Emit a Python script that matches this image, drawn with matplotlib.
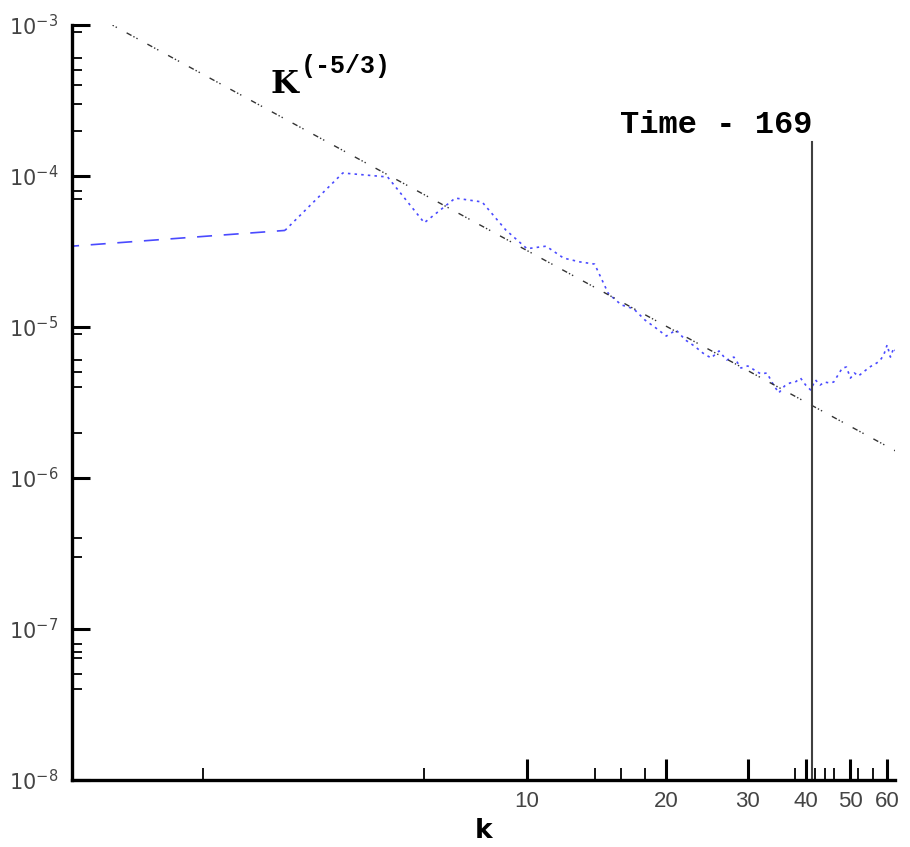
import numpy as np
import matplotlib
matplotlib.use("Agg")
import matplotlib.pyplot as plt
from matplotlib.ticker import FixedLocator, FixedFormatter, NullFormatter

# energy spectrum
k = np.arange(1, 64)
E = [3.40e-5, 3.98e-5, 4.36e-5, 1.047e-4, 9.85e-5, 4.9e-5, 7.14e-5, 6.73e-5, 4.39e-5, 3.30e-5,
     3.43e-5, 2.86e-5, 2.70e-5, 2.61e-5, 1.66e-5, 1.40e-5, 1.32e-5, 1.11e-5, 9.84e-6, 8.71e-6,
     9.55e-6, 8.20e-6, 7.48e-6, 6.72e-6, 6.23e-6, 6.94e-6, 6.04e-6, 6.32e-6, 5.35e-6, 5.52e-6,
     5.19e-6, 4.89e-6, 4.96e-6, 4.20e-6, 3.66e-6, 4.06e-6, 4.26e-6, 4.32e-6, 4.59e-6, 4.13e-6,
     3.83e-6, 4.46e-6, 4.13e-6, 4.32e-6, 4.26e-6, 4.32e-6, 4.81e-6, 5.35e-6, 5.43e-6, 4.59e-6,
     4.96e-6, 4.73e-6, 4.96e-6, 5.19e-6, 5.43e-6, 5.60e-6, 5.78e-6, 6.04e-6, 6.53e-6, 7.60e-6,
     6.32e-6, 7.26e-6, 6.73e-6]
E = np.array(E)

# Kolmogorov reference slope
C_ref = 1.49e-3
k_ref = np.array([1.0, 64.0])
t_line_k = 41.3
t_line_top = 1.68e-4

xmajor = [10, 20, 30, 40, 50, 60]
xminor = [2, 6, 14, 16, 18, 38, 42, 44, 46, 52, 56]
ymajor = [1e-8, 1e-7, 1e-6, 1e-5, 1e-4, 1e-3]
ymajor_lbl = ['$10^{-8}$', '$10^{-7}$', '$10^{-6}$', '$10^{-5}$', '$10^{-4}$', '$10^{-3}$']
yminor = [4e-8, 5e-8, 6.4e-8, 7e-8, 8e-8, 3e-7, 4e-7, 2e-6, 4e-6, 5e-6, 6e-6, 9e-6,
          7e-5, 8e-5, 2e-4, 3e-4, 4e-4, 5e-4, 6e-4, 9e-4]

fig = plt.figure(figsize=(9.1, 8.47), dpi=100)
ax = fig.add_axes([72/910, 1-780/847, (895-72)/910, (780-25)/847])
ax.set_xscale('log')
ax.set_yscale('log')

# blue spectrum: long dashes at the start, dotted afterwards
ax.plot(k[:3], E[:3], color='#4a4aff', lw=1.2, ls=(0, (9, 7)))
ax.plot(k[2:], E[2:], color='#4a4aff', lw=1.2, ls=(0, (1.5, 2.5)))

ax.plot(k_ref, C_ref*k_ref**(-5/3), color='#333333', lw=1.0, ls=(0, (4, 1.5, 1, 1.5, 1, 8)))
ax.plot([t_line_k, t_line_k], [1e-8, t_line_top], color='#404040', lw=1.5)

ax.text(t_line_k, 1.93e-4, 'Time - 169', family='Liberation Mono', weight='bold',
        fontsize=23, ha='right', va='baseline')
ax.text(2.79, 3.55e-4, 'K', family='DejaVu Serif', weight='bold', fontsize=23,
        ha='left', va='baseline')
ax.text(3.25, 4.8e-4, '(-5/3)', family='Liberation Mono', weight='bold', fontsize=18,
        ha='left', va='baseline')

ax.set_xlim(1.04, 62.4)
ax.set_ylim(1e-8, 1e-3)

ax.xaxis.set_major_locator(FixedLocator(xmajor))
ax.xaxis.set_major_formatter(FixedFormatter([str(v) for v in xmajor]))
ax.xaxis.set_minor_locator(FixedLocator(xminor))
ax.xaxis.set_minor_formatter(NullFormatter())
ax.yaxis.set_major_locator(FixedLocator(ymajor))
ax.yaxis.set_major_formatter(FixedFormatter(ymajor_lbl))
ax.yaxis.set_minor_locator(FixedLocator(yminor))
ax.yaxis.set_minor_formatter(NullFormatter())

for s in ['top', 'right']:
    ax.spines[s].set_visible(False)
for s in ['left', 'bottom']:
    ax.spines[s].set_linewidth(2.4)

ax.tick_params(axis='both', which='both', direction='in', color='black')
ax.tick_params(axis='y', which='major', length=13, width=2.2, pad=10,
               labelsize=15, labelcolor='#444444')
ax.tick_params(axis='y', which='minor', length=7, width=1.3)
ax.tick_params(axis='x', which='major', length=15, width=2.2, pad=8,
               labelsize=16, labelcolor='#444444')
ax.tick_params(axis='x', which='minor', length=9, width=1.3)
for lbl in ax.get_xticklabels() + ax.get_yticklabels():
    lbl.set_family('Liberation Sans')

ax.set_xlabel('k', fontsize=19, weight='bold', labelpad=4)

fig.savefig('out.png', dpi=100)
